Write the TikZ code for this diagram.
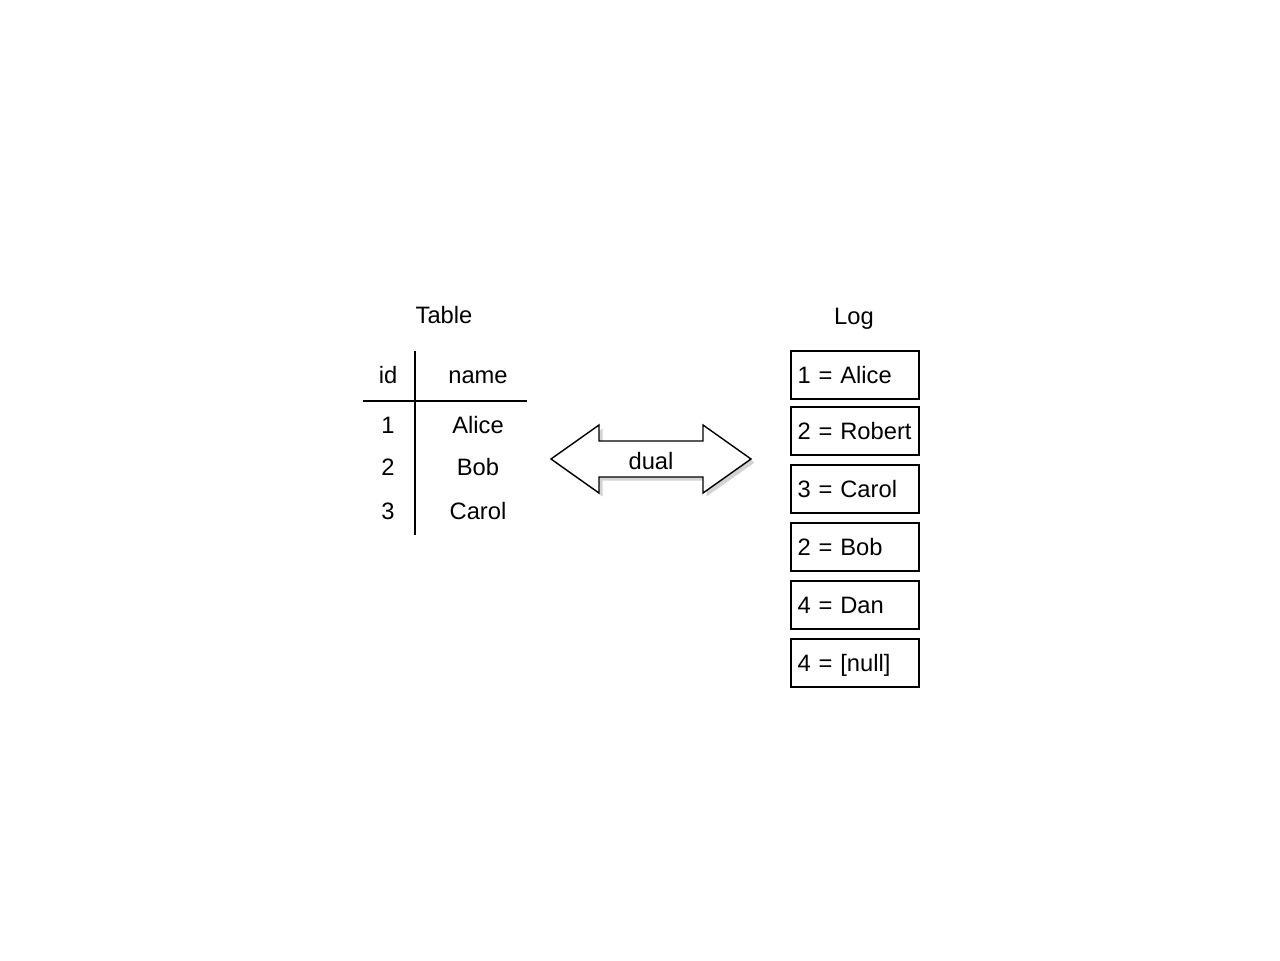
\documentclass[tikz,border=0pt]{standalone}
\usepackage{fontspec}
\setmainfont{Liberation Sans}
\usetikzlibrary{shadows}

\tikzset{
  lbl/.style={font=\fontsize{13.5}{16}\selectfont, inner sep=0pt,
    text height=10.7pt, text depth=1.5pt},
  logbox/.style={draw, line width=1.1pt, font=\fontsize{13.5}{16}\selectfont,
    text width=2.3cm, align=left, inner xsep=0.13cm, inner ysep=0pt,
    minimum height=0.96cm, text height=10.7pt, text depth=1.5pt},
  tabline/.style={line width=1pt}
}

\begin{document}
\begin{tikzpicture}[x=0.02cm, y=-0.02cm]
\useasboundingbox (0,0) rectangle (1280,960);

%table
\node[lbl] (tabtitle) at (444,315) {Table};
\node[lbl] (hid) at (388,375) {id};
\node[lbl] (hname) at (478,375) {name};
\node[lbl] (id1) at (388,425) {1};
\node[lbl] (nm1) at (478,425) {Alice};
\node[lbl] (id2) at (388,467) {2};
\node[lbl] (nm2) at (478,467) {Bob};
\node[lbl] (id3) at (388,511) {3};
\node[lbl] (nm3) at (478,511) {Carol};

\coordinate (vtop) at (415,351);
\coordinate (vbot) at (415,535);
\coordinate (hleft) at (363,401);
\coordinate (hright) at (527,401);
\draw[tabline] (vtop) -- (vbot);
\draw[tabline] (hleft) -- (hright);

%double arrow
\draw[line width=0.8pt, fill=white, line join=miter,
      drop shadow={shadow xshift=2pt, shadow yshift=-2pt, opacity=0.35}]
  (551,459) -- (599,425) -- (599,441) -- (703,441) -- (703,425) -- (751,459)
  -- (703,493) -- (703,477) -- (599,477) -- (599,493) -- cycle;
\node[lbl] (dual) at (651,461) {dual};

%log
\node[lbl] (logtitle) at (854,316) {Log};
\foreach \y/\txt [count=\i] in {375/1 = Alice, 431/2 = Robert, 489/3 = Carol,
    547/2 = Bob, 605/4 = Dan, 663/4 = [null]}
  \node[logbox] (log\i) at (855,\y) {\txt};

\end{tikzpicture}
\end{document}
